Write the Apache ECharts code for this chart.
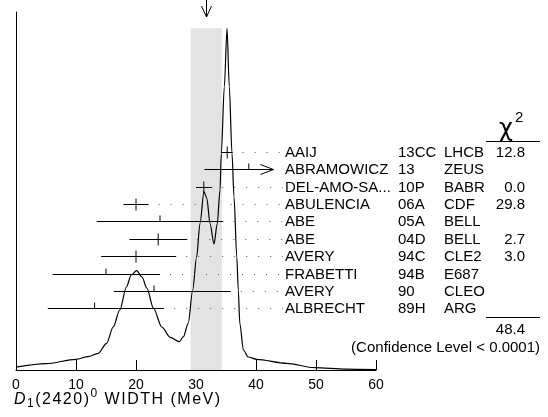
<!DOCTYPE html>
<html><head><meta charset="utf-8">
<script src="https://cdn.jsdelivr.net/npm/echarts@6/dist/echarts.min.js"></script>
<style>html,body{margin:0;padding:0;background:#fff}#c{width:548px;height:417px}</style>
</head><body><div id="c"></div>
<script>
// ---- data ----
const curveX = [0, 5, 10, 12, 13.7, 15.1, 16.2, 17.3, 18.4, 19.2, 20.1, 21.0, 21.8, 22.9, 24.3, 25.7, 27.2, 27.9, 28.7, 29.45, 30.1, 30.67, 31.33, 31.8, 32.33, 33.0, 33.55, 34.0, 34.22, 34.72, 35.17, 35.55, 36.0, 36.33, 36.8, 37.05, 37.3, 37.9, 38.7, 40.1, 45.1, 49.8, 55, 60];
const curveY = [2.8, 6.3, 10.7, 13.3, 16.7, 26.7, 43, 60, 83, 95, 99.3, 93, 82, 62, 43, 32.7, 28.3, 33.3, 46.7, 80, 113, 146.7, 178.3, 172, 146.7, 126, 146.7, 180, 216.7, 283.3, 341.7, 283.3, 216.7, 173.3, 113, 80, 46.7, 20, 13, 10.7, 6.7, 2.3, 0.8, 0.3];

const names = ['AAIJ', 'ABRAMOWICZ', 'DEL-AMO-SA...', 'ABULENCIA', 'ABE', 'ABE', 'AVERY', 'FRABETTI', 'AVERY', 'ALBRECHT'];
const refs = ['13CC', '13', '10P', '06A', '05A', '04D', '94C', '94B', '90', '89H'];
const exps = ['LHCB', 'ZEUS', 'BABR', 'CDF', 'BELL', 'BELL', 'CLE2', 'E687', 'CLEO', 'ARG'];
const values = [35.2, 38.8, 31.3, 20.0, 24.0, 23.7, 20.0, 15.0, 23.0, 13.1];
const errLow = [34.2, 31.4, 30.0, 17.9, 13.45, 18.9, 14.2, 6.1, 16.3, 5.3];
const errHigh = [36.1, 42.9, 32.7, 22.1, 34.55, 28.55, 26.7, 24.0, 35.8, 24.7];
const arrowRight = [false, true, false, false, false, false, false, false, false, false];
const chi2 = ['12.8', '', '0.0', '29.8', '', '2.7', '3.0', '', '', ''];

const avgValue = 31.7, avgError = 2.6;
const chiTotal = '48.4';
const confText = '(Confidence Level < 0.0001)';
const xMin = 0, xMax = 60, xStep = 10;

// ---- layout ----
const FONT = '"Liberation Sans", Arial, Helvetica, sans-serif';
const ROW_TOP = 218.3, ROW_STEP = 17.4;
const rowY = i => ROW_TOP - i * ROW_STEP;
const peak = Math.max(...curveY);

const chart = echarts.init(document.getElementById('c'), null, {renderer: 'canvas'});

const rowData = values.map((v, i) => [v, errLow[i], errHigh[i], rowY(i), i]);

function renderRow(params, api) {
  const i = api.value(4);
  const c = api.coord([api.value(0), api.value(3)]);
  const lo = api.coord([api.value(1), api.value(3)]);
  const hi = api.coord([api.value(2), api.value(3)]);
  const y = Math.round(c[1]) + 0.5;
  const ch = [];
  const ls = {stroke: '#000', lineWidth: 1};
  ch.push({type: 'line', shape: {x1: lo[0], y1: y, x2: hi[0], y2: y}, style: ls});
  if (arrowRight[i]) {
    ch.push({type: 'polyline', shape: {points: [[hi[0] - 13, y - 5], [hi[0], y], [hi[0] - 13, y + 5]]}, style: {stroke: '#000', lineWidth: 1, fill: null}});
  }
  if (chi2[i] !== '') {
    ch.push({type: 'line', shape: {x1: c[0], y1: y - 6, x2: c[0], y2: y + 6}, style: ls});
  } else {
    ch.push({type: 'line', shape: {x1: c[0], y1: y - 6, x2: c[0], y2: y}, style: ls});
  }
  if (!arrowRight[i] && hi[0] + 10 < 283) {
    ch.push({type: 'line', shape: {x1: hi[0] + 10, y1: y, x2: 283, y2: y}, style: {stroke: '#555', lineWidth: 1, lineDash: [1, 11]}});
  }
  const tf = '15px ' + FONT;
  ch.push({type: 'text', style: {text: names[i], x: 285, y: y, font: tf, fill: '#000', verticalAlign: 'middle', align: 'left'}});
  ch.push({type: 'text', style: {text: refs[i], x: 398, y: y, font: tf, fill: '#000', verticalAlign: 'middle', align: 'left'}});
  ch.push({type: 'text', style: {text: exps[i], x: 444, y: y, font: tf, fill: '#000', verticalAlign: 'middle', align: 'left'}});
  if (chi2[i] !== '') {
    ch.push({type: 'text', style: {text: chi2[i], x: 525, y: y, font: tf, fill: '#000', verticalAlign: 'middle', align: 'right'}});
  }
  return {type: 'group', children: ch};
}

// axis title built from pieces with sub/superscripts and letter spacing
const mctx = document.createElement('canvas').getContext('2d');
const titleParts = [
  {t: 'D', size: 16, italic: true, y: 399.5},
  {t: '1', size: 12, y: 403.8},
  {t: '(2420)', size: 16, y: 399.5},
  {t: '0', size: 12, y: 394},
  {t: ' WIDTH (MeV)', size: 16, y: 399.5}
];
const titleEls = [];
let tx = 14;
titleParts.forEach(p => {
  const font = (p.italic ? 'italic ' : '') + p.size + 'px ' + FONT;
  mctx.font = font;
  for (const chr of p.t) {
    titleEls.push({type: 'text', x: tx, y: p.y, style: {text: chr, font: font, fill: '#000', verticalAlign: 'middle', align: 'left'}});
    tx += mctx.measureText(chr).width + 1.5;
  }
});

const option = {
  animation: false,
  grid: {left: 16, right: 172, top: 12, bottom: 47},
  xAxis: {
    type: 'value', min: xMin, max: xMax, interval: xStep,
    axisLine: {lineStyle: {color: '#000', width: 1}},
    axisTick: {inside: true, length: 10, lineStyle: {color: '#000', width: 1}},
    axisLabel: {color: '#000', fontSize: 14, fontFamily: FONT, margin: 8},
    splitLine: {show: false}
  },
  yAxis: {
    type: 'value', min: 0, max: 358,
    axisLine: {show: true, lineStyle: {color: '#000', width: 1}},
    axisTick: {show: false}, axisLabel: {show: false}, splitLine: {show: false}
  },
  graphic: [
    {type: 'text', x: 499, y: 130, style: {text: 'χ', font: '24px "DejaVu Sans", "Noto Sans", sans-serif', fill: '#000', verticalAlign: 'middle', align: 'left'}},
    {type: 'text', x: 515, y: 118, style: {text: '2', font: '15px ' + FONT, fill: '#000', verticalAlign: 'middle', align: 'left'}},
    {type: 'line', shape: {x1: 486, y1: 141.5, x2: 540, y2: 141.5}, style: {stroke: '#000', lineWidth: 1}},
    {type: 'line', shape: {x1: 486, y1: 317.5, x2: 540, y2: 317.5}, style: {stroke: '#000', lineWidth: 1}},
    {type: 'text', x: 525, y: 330, style: {text: chiTotal, font: '15px ' + FONT, fill: '#000', verticalAlign: 'middle', align: 'right'}},
    {type: 'text', x: 540, y: 348, style: {text: confText, font: '15px ' + FONT, fill: '#000', verticalAlign: 'middle', align: 'right'}}
  ].concat(titleEls),
  series: [
    {
      type: 'custom', z: 1, clip: false,
      data: [[avgValue - avgError, avgValue + avgError, peak, avgValue]],
      renderItem: (p, api) => {
        const a = api.coord([api.value(0), api.value(2)]);
        const b = api.coord([api.value(1), 0]);
        const m = api.coord([api.value(3), 358]);
        const x = Math.round(m[0]) + 0.5;
        return {type: 'group', children: [
          {type: 'rect', shape: {x: a[0], y: a[1], width: b[0] - a[0], height: b[1] - a[1]}, style: {fill: '#e3e3e3'}},
          {type: 'line', shape: {x1: x, y1: m[1] - 12, x2: x, y2: m[1] + 5}, style: {stroke: '#000', lineWidth: 1}},
          {type: 'polyline', shape: {points: [[x - 5, m[1] - 6], [x, m[1] + 5], [x + 5, m[1] - 6]]}, style: {stroke: '#000', lineWidth: 1, fill: null}}
        ]};
      }
    },
    {
      type: 'line', z: 3, data: curveX.map((x, i) => [x, curveY[i]]),
      smooth: 0.3, smoothMonotone: 'x', symbol: 'none',
      lineStyle: {color: '#000', width: 1.2}
    },
    {
      type: 'custom', z: 4, clip: false, data: rowData, renderItem: renderRow
    }
  ]
};
chart.setOption(option);
</script>
</body></html>
